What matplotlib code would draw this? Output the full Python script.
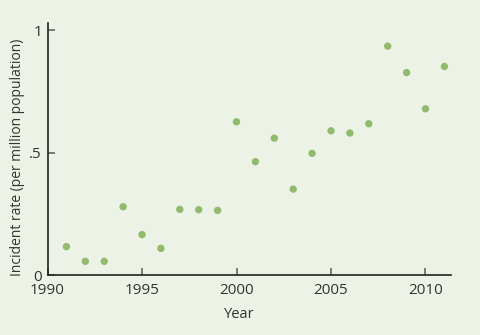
import matplotlib
matplotlib.use("Agg")
import matplotlib.pyplot as plt

years = [1991, 1992, 1993, 1994, 1995, 1996, 1997, 1998, 1999, 2000, 2001,
         2002, 2003, 2004, 2005, 2006, 2007, 2008, 2009, 2010, 2011]
rates = [0.116, 0.056, 0.056, 0.279, 0.165, 0.109, 0.268, 0.267, 0.264, 0.626, 0.463,
         0.559, 0.351, 0.497, 0.589, 0.580, 0.618, 0.935, 0.827, 0.679, 0.852]
xticks = [1990, 1995, 2000, 2005, 2010]
yticks = [0, 0.5, 1]
ytick_labels = ["0", ".5", "1"]

bg = "#edf2e6"
plt.rcParams['font.family'] = ['Open Sans', 'DejaVu Sans']
fig = plt.figure(figsize=(4.8, 3.35), dpi=100, facecolor=bg)
ax = fig.add_axes([0.099, 0.179, 0.8406, 0.752], facecolor=bg)
ax.scatter(years, rates, s=28, color="#91ba6d", edgecolors="none", zorder=3)
ax.set_xlim(1990, 2011.35)
ax.set_ylim(0, 1.029)
ax.set_xticks(xticks)
ax.set_yticks(yticks)
ax.set_yticklabels(ytick_labels)
for s in ["top", "right"]:
    ax.spines[s].set_visible(False)
for s in ["left", "bottom"]:
    ax.spines[s].set_color("#222222")
    ax.spines[s].set_linewidth(1.2)
ax.tick_params(direction="in", length=5, width=1.2, color="#666666",
               labelsize=11, labelcolor="#333333")
ax.tick_params(axis="x", pad=6)
ax.tick_params(axis="y", pad=4)
ax.set_xlabel("Year", fontsize=10.5, color="#333333")
ax.set_ylabel("Incident rate (per million population)", fontsize=10, color="#333333")
ax.xaxis.set_label_coords(0.476, -0.125)
ax.yaxis.set_label_coords(-0.057, 0.468)
fig.savefig("out.png", dpi=100, facecolor=bg)
